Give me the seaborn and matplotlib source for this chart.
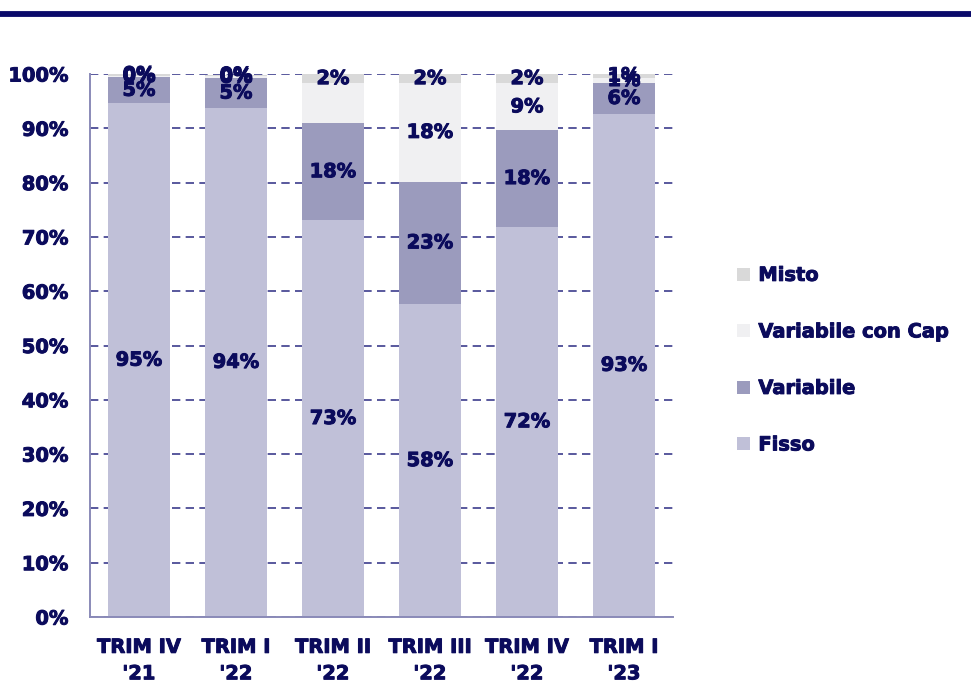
import matplotlib
matplotlib.use("Agg")
import matplotlib.pyplot as plt
import matplotlib.patheffects as pe
import seaborn as sns
import pandas as pd
import numpy as np
from matplotlib.patches import Patch
from matplotlib.lines import Line2D

# ---- data (percent) ----
categories = ["TRIM IV\n'21", "TRIM I\n'22", "TRIM II\n'22", "TRIM III\n'22", "TRIM IV\n'22", "TRIM I\n'23"]
fisso = [94.6, 93.8, 73.1, 57.6, 71.9, 92.7]
variabile = [4.8, 5.4, 17.8, 22.6, 17.7, 5.6]
variabile_cap = [0.3, 0.4, 7.4, 18.1, 8.7, 1.0]
misto = [0.3, 0.3, 1.7, 1.7, 1.7, 0.7]
series_names = ["Fisso", "Variabile", "Variabile con Cap", "Misto"]
yticks = [0, 10, 20, 30, 40, 50, 60, 70, 80, 90, 100]
hidden_labels = {("Variabile con Cap", 2)}

colors = {"Fisso": "#C0C0D8", "Variabile": "#9B9BBD",
          "Variabile con Cap": "#F0F0F2", "Misto": "#D9D9D9"}
navy = "#0B0B5C"
heavy = [pe.withStroke(linewidth=0.7, foreground=navy)]

sns.set_theme(style="white")
plt.rcParams["font.family"] = ["DejaVu Sans"]
plt.rcParams["font.weight"] = "bold"

fig = plt.figure(figsize=(9.71, 6.86), dpi=100)
ax = fig.add_axes([0.0932, 0.1006, 0.5994, 0.7915])

series = [fisso, variabile, variabile_cap, misto]
cum = np.cumsum(np.array(series), axis=0)

# draw cumulative bars back-to-front (tallest first)
for i in range(len(series_names) - 1, -1, -1):
    d = pd.DataFrame({"cat": categories, "val": cum[i] / 100.0})
    sns.barplot(data=d, x="cat", y="val", color=colors[series_names[i]],
                width=0.64, linewidth=0, saturation=1, ax=ax, zorder=2)

# data labels at segment centers
for i, name in enumerate(series_names):
    vals = series[i]
    for j in range(len(categories)):
        if (name, j) in hidden_labels:
            continue
        bottom = cum[i][j] - vals[j]
        yc = (bottom + vals[j] / 2) / 100.0
        ax.text(j, yc, f"{vals[j]:.0f}%", ha="center", va="center",
                fontsize=14, fontweight="bold", color=navy, zorder=5,
                path_effects=heavy)

ax.set_xlim(-0.5, 5.5)
ax.set_ylim(0, 1)
ax.set_yticks([t / 100 for t in yticks])
ax.set_yticklabels([f"{t}%" for t in yticks], fontsize=14, fontweight="bold", color=navy)
ax.set_xticks(range(len(categories)))
ax.set_xticklabels(categories, fontsize=14, fontweight="bold", color=navy, linespacing=1.5)
for t in ax.get_xticklabels() + ax.get_yticklabels():
    t.set_path_effects(heavy)
ax.set_xlabel("")
ax.set_ylabel("")

ax.set_axisbelow(True)
ax.yaxis.grid(True, color="#3C3C8C", linewidth=1.2, linestyle=(0, (5, 3.2)), zorder=0)
ax.xaxis.grid(False)
for s in ["top", "right"]:
    ax.spines[s].set_visible(False)
for s in ["left", "bottom"]:
    ax.spines[s].set_color("#8A8AB8")
    ax.spines[s].set_linewidth(1.4)
ax.tick_params(axis="y", which="major", length=0, pad=16)
ax.tick_params(axis="x", which="major", length=0, pad=15)

# legend
handles = [Patch(facecolor=colors[n], edgecolor="none") for n in reversed(series_names)]
leg = fig.legend(handles, list(reversed(series_names)), loc="center left",
                 bbox_to_anchor=(0.759, 0.475), frameon=False,
                 prop={"size": 14, "weight": "bold"}, labelspacing=1.93,
                 handlelength=0.65, handleheight=0.65, handletextpad=0.45,
                 borderpad=0, borderaxespad=0)
for t in leg.get_texts():
    t.set_color(navy)
    t.set_path_effects(heavy)

# top decorative rule
fig.add_artist(Line2D([0, 1], [1 - 13.5 / 686, 1 - 13.5 / 686], transform=fig.transFigure,
                      color="#0A0A6A", linewidth=4.2))

fig.savefig("out.png", dpi=100)
